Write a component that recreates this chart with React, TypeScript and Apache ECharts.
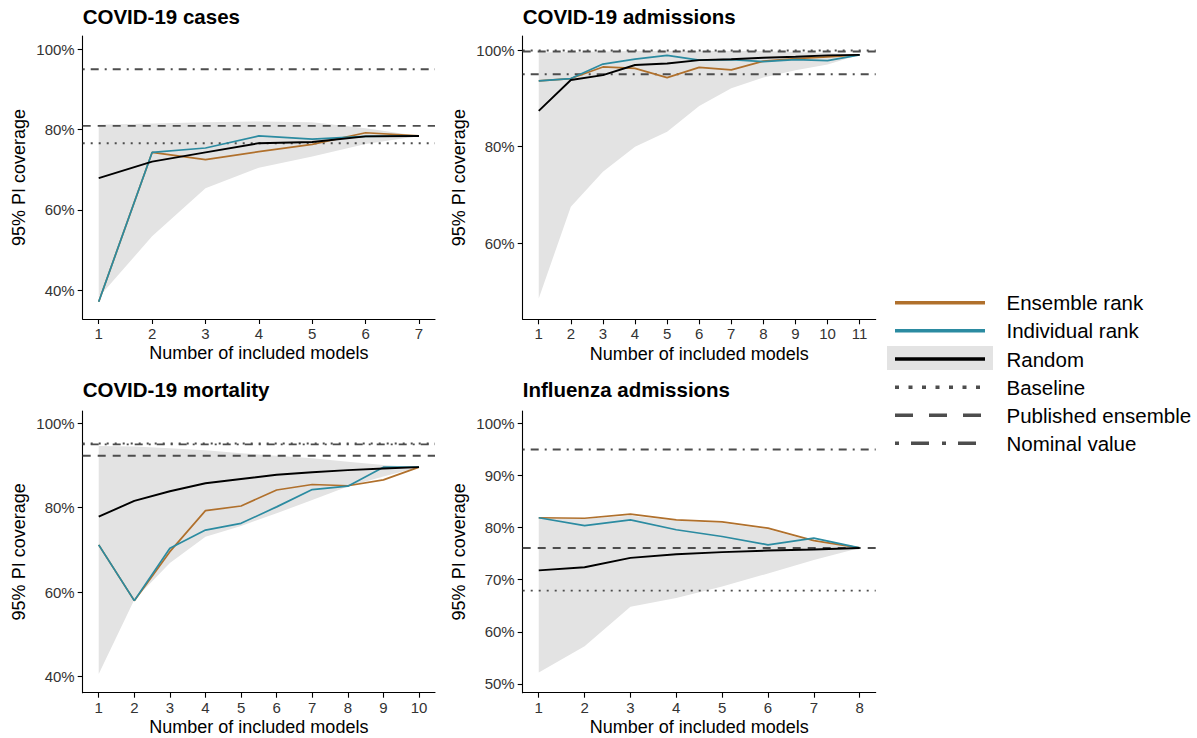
import React, { useEffect, useRef } from "react";
import * as echarts from "echarts";

// ---------- data ----------
const casesModels = [1, 2, 3, 4, 5, 6, 7];
const casesEnsemble = [37.1, 74.3, 72.5, 74.5, 76.3, 79.2, 78.4];
const casesIndividual = [37.1, 74.3, 75.4, 78.4, 77.6, 78.3, 78.4];
const casesRandom = [67.9, 72.0, 74.3, 76.6, 76.9, 78.3, 78.4];
const casesLower = [38.2, 53.4, 65.4, 70.5, 73.3, 76.4, 78.4];
const casesUpper = [81.2, 81.5, 81.8, 82.0, 81.8, 80.3, 78.4];
const casesRefs = [76.6, 80.9, 95.0]; // baseline, published ensemble, nominal
const casesYTicks = [40, 60, 80, 100];

const admModels = [1, 2, 3, 4, 5, 6, 7, 8, 9, 10, 11];
const admEnsemble = [93.6, 94.1, 96.5, 96.2, 94.3, 96.4, 95.9, 97.7, 98.2, 98.6, 99.0];
const admIndividual = [93.6, 94.1, 97.1, 98.1, 98.9, 97.9, 98.0, 97.6, 98.0, 97.8, 99.0];
const admRandom = [87.4, 93.8, 94.8, 96.9, 97.2, 97.9, 98.1, 98.4, 98.6, 98.9, 99.0];
const admLower = [48.6, 67.6, 74.8, 80.0, 83.1, 88.4, 92.1, 94.3, 95.8, 97.0, 99.0];
const admUpper = [99.5, 99.6, 99.7, 99.8, 99.8, 99.8, 99.8, 99.8, 99.6, 99.4, 99.0];
const admRefs = [99.9, 99.7, 95.0];
const admYTicks = [60, 80, 100];

const mortModels = [1, 2, 3, 4, 5, 6, 7, 8, 9, 10];
const mortEnsemble = [71.2, 58.0, 69.6, 79.3, 80.4, 84.2, 85.5, 85.2, 86.6, 89.6];
const mortIndividual = [71.2, 58.0, 70.4, 74.7, 76.3, 80.2, 84.3, 85.1, 89.6, 89.6];
const mortRandom = [77.9, 81.6, 83.9, 85.8, 86.8, 87.8, 88.4, 88.9, 89.3, 89.6];
const mortLower = [40.6, 58.2, 66.9, 73.1, 75.7, 78.7, 81.8, 85.0, 87.4, 89.6];
const mortUpper = [94.6, 94.5, 94.1, 93.6, 92.9, 92.3, 91.7, 90.9, 90.1, 89.6];
const mortRefs = [95.2, 92.3, 95.0];
const mortYTicks = [40, 60, 80, 100];

const fluModels = [1, 2, 3, 4, 5, 6, 7, 8];
const fluEnsemble = [81.9, 81.8, 82.6, 81.5, 81.1, 79.9, 77.5, 76.1];
const fluIndividual = [81.9, 80.4, 81.5, 79.6, 78.3, 76.7, 78.0, 76.1];
const fluRandom = [71.8, 72.4, 74.2, 74.9, 75.3, 75.6, 75.8, 76.1];
const fluLower = [52.2, 57.2, 64.8, 66.5, 68.7, 71.2, 73.8, 76.1];
const fluUpper = [81.8, 81.7, 82.3, 81.3, 80.9, 79.7, 77.3, 76.1];
const fluRefs = [67.9, 76.1, 95.0];
const fluYTicks = [50, 60, 70, 80, 90, 100];

const panelTitles = ["COVID-19 cases", "COVID-19 admissions", "COVID-19 mortality", "Influenza admissions"];
const legendLabels = ["Ensemble rank", "Individual rank", "Random", "Baseline", "Published ensemble", "Nominal value"];
const xAxisTitle = "Number of included models";
const yAxisTitle = "95% PI coverage";

// ---------- styles / layout ----------
const FONT = '"Liberation Sans", Arial, Helvetica, sans-serif';
const BROWN = "#B0702C";
const TEAL = "#2B8BA1";
const BLACK = "#000000";
const BAND = "#E3E3E3";
const REF = "#4D4D4D";
const DOTTED = [2, 6];
const DASHED = [8, 7];
const DOTDASH = [2, 6, 8, 6];

const layouts = [
  { left: 82.7, top: 36, width: 352.3, height: 283, xMin: 0.7, xMax: 7.3, yMin: 32.8, yMax: 103.3, titleY: 16.2 },
  { left: 522.7, top: 36, width: 353, height: 283.3, xMin: 0.5, xMax: 11.5, yMin: 44.3, yMax: 102.9, titleY: 16.2 },
  { left: 82.7, top: 411, width: 352.3, height: 281.7, xMin: 0.55, xMax: 10.45, yMin: 36.2, yMax: 102.9, titleY: 389.7 },
  { left: 522.7, top: 411, width: 353, height: 281.7, xMin: 0.65, xMax: 8.35, yMin: 48.3, yMax: 102.4, titleY: 389.7 },
];

const panels = [
  { models: casesModels, ens: casesEnsemble, ind: casesIndividual, rnd: casesRandom, lo: casesLower, hi: casesUpper, refs: casesRefs, yTicks: casesYTicks },
  { models: admModels, ens: admEnsemble, ind: admIndividual, rnd: admRandom, lo: admLower, hi: admUpper, refs: admRefs, yTicks: admYTicks },
  { models: mortModels, ens: mortEnsemble, ind: mortIndividual, rnd: mortRandom, lo: mortLower, hi: mortUpper, refs: mortRefs, yTicks: mortYTicks },
  { models: fluModels, ens: fluEnsemble, ind: fluIndividual, rnd: fluRandom, lo: fluLower, hi: fluUpper, refs: fluRefs, yTicks: fluYTicks },
];

function buildOption() {
  const grid: any[] = [];
  const xAxis: any[] = [];
  const yAxis: any[] = [];
  const series: any[] = [];
  const graphic: any[] = [];

  panels.forEach((p, i) => {
    const L = layouts[i];
    grid.push({ left: L.left, top: L.top, width: L.width, height: L.height, containLabel: false });
    xAxis.push({
      type: "value",
      gridIndex: i,
      min: L.xMin,
      max: L.xMax,
      splitLine: { show: false },
      axisLine: { show: true, onZero: false, lineStyle: { color: "#000", width: 1.1 } },
      axisTick: { show: true, length: 5, lineStyle: { color: "#000", width: 1.1 }, customValues: p.models },
      axisLabel: {
        show: true,
        customValues: p.models,
        margin: 7,
        color: "#333",
        fontSize: 15,
        fontFamily: FONT,
        formatter: (v: number) => String(v),
      },
    });
    yAxis.push({
      type: "value",
      gridIndex: i,
      min: L.yMin,
      max: L.yMax,
      splitLine: { show: false },
      axisLine: { show: true, onZero: false, lineStyle: { color: "#000", width: 1.1 } },
      axisTick: { show: true, length: 5, lineStyle: { color: "#000", width: 1.1 }, customValues: p.yTicks },
      axisLabel: {
        show: true,
        customValues: p.yTicks,
        margin: 8,
        color: "#333",
        fontSize: 15,
        fontFamily: FONT,
        formatter: (v: number) => `${Math.round(v)}%`,
      },
    });

    // ribbon (random range)
    const lo = p.lo;
    const hi = p.hi;
    const models = p.models;
    series.push({
      type: "custom",
      xAxisIndex: i,
      yAxisIndex: i,
      silent: true,
      data: models.map((m, j) => [m, lo[j], hi[j]]),
      renderItem: (params: any, api: any) => {
        if (params.dataIndex !== 0) return null;
        const pts: number[][] = [];
        for (let j = 0; j < models.length; j++) pts.push(api.coord([models[j], hi[j]]));
        for (let j = models.length - 1; j >= 0; j--) pts.push(api.coord([models[j], lo[j]]));
        return { type: "polygon", shape: { points: pts }, style: { fill: BAND, stroke: null } };
      },
      z: 1,
    });

    // reference lines
    const refStyles = [DOTTED, DASHED, DOTDASH];
    p.refs.forEach((v, k) => {
      series.push({
        type: "line",
        xAxisIndex: i,
        yAxisIndex: i,
        data: [[L.xMin, v], [L.xMax, v]],
        symbol: "none",
        silent: true,
        lineStyle: { color: REF, width: 1.9, type: refStyles[k], cap: "butt" },
        z: 2,
      });
    });

    const lineOf = (data: number[], color: string, width: number, z: number) => ({
      type: "line",
      xAxisIndex: i,
      yAxisIndex: i,
      data: models.map((m, j) => [m, data[j]]),
      symbol: "none",
      silent: true,
      lineStyle: { color, width },
      z,
    });
    series.push(lineOf(p.ens, BROWN, 1.7, 3));
    series.push(lineOf(p.ind, TEAL, 1.7, 4));
    series.push(lineOf(p.rnd, BLACK, 1.9, 5));

    // titles
    graphic.push({
      type: "text",
      x: L.left,
      y: L.titleY,
      style: { text: panelTitles[i], font: `bold 20.5px ${FONT}`, fill: "#000", align: "left", verticalAlign: "middle" },
    });
    // x axis title
    graphic.push({
      type: "text",
      x: L.left + L.width / 2,
      y: L.top + L.height + 34.3,
      style: { text: xAxisTitle, font: `18px ${FONT}`, fill: "#000", align: "center", verticalAlign: "middle" },
    });
    // y axis title
    graphic.push({
      type: "text",
      x: L.left - 63.5,
      y: L.top + L.height / 2,
      rotation: Math.PI / 2,
      style: { text: yAxisTitle, font: `18px ${FONT}`, fill: "#000", align: "center", verticalAlign: "middle" },
    });
  });

  // legend
  const lx1 = 895;
  const lx2 = 985;
  const rowY = [302.7, 330.7, 359, 387.3, 415.3, 443.3];
  graphic.push({ type: "rect", shape: { x: 887, y: 346, width: 106, height: 24 }, style: { fill: BAND } });
  const keyStyles: any[] = [
    { stroke: BROWN, lineWidth: 3.5 },
    { stroke: TEAL, lineWidth: 3.5 },
    { stroke: BLACK, lineWidth: 3.5 },
    { stroke: REF, lineWidth: 3.5, lineDash: [4, 9.5] },
    { stroke: REF, lineWidth: 3.5, lineDash: [18, 16] },
    { stroke: REF, lineWidth: 3.5, lineDash: [4, 12, 18, 13] },
  ];
  legendLabels.forEach((lab, k) => {
    graphic.push({
      type: "line",
      shape: { x1: lx1, y1: rowY[k], x2: lx2, y2: rowY[k] },
      style: { ...keyStyles[k], lineCap: "butt" },
    });
    graphic.push({
      type: "text",
      x: 1006.5,
      y: rowY[k],
      style: { text: lab, font: `20.5px ${FONT}`, fill: "#000", align: "left", verticalAlign: "middle" },
    });
  });

  return {
    animation: false,
    backgroundColor: "#ffffff",
    grid,
    xAxis,
    yAxis,
    series,
    graphic,
  };
}

export default function App() {
  const ref = useRef<HTMLDivElement>(null);
  useEffect(() => {
    if (!ref.current) return;
    const chart = echarts.init(ref.current, undefined, { renderer: "svg" });
    chart.setOption(buildOption() as any);
    return () => chart.dispose();
  }, []);
  return (
    <div
      ref={ref}
      style={{ position: "absolute", left: 0, top: 0, width: 1197, height: 738, background: "#fff" }}
    />
  );
}
